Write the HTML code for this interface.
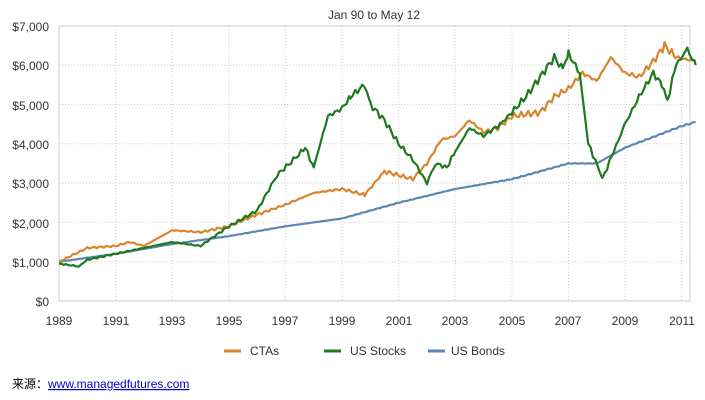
<!DOCTYPE html>
<html><head><meta charset="utf-8"><style>
html,body{margin:0;padding:0;background:#fff;width:705px;height:400px;overflow:hidden}
text{font-family:"Liberation Sans",Arial,sans-serif;font-size:12px;fill:#333}
</style></head><body>
<svg width="705" height="400" viewBox="0 0 705 400">
<g id="grid" stroke="#ccc" stroke-dasharray="1,2" stroke-width="1"></g>
<rect x="59" y="26" width="631" height="275" fill="none" stroke="#ccc"/>
<text x="374" y="19" text-anchor="middle">Jan 90 to May 12</text>
<g text-anchor="end">
<text x="49" y="31">$7,000</text><text x="49" y="70">$6,000</text><text x="49" y="110">$5,000</text>
<text x="49" y="149">$4,000</text><text x="49" y="188">$3,000</text><text x="49" y="228">$2,000</text>
<text x="49" y="267">$1,000</text><text x="49" y="306">$0</text>
</g>
<g text-anchor="middle">
<text x="59" y="325">1989</text><text x="116" y="325">1991</text><text x="172" y="325">1993</text>
<text x="229" y="325">1995</text><text x="285" y="325">1997</text><text x="342" y="325">1999</text>
<text x="399" y="325">2001</text><text x="455" y="325">2003</text><text x="512" y="325">2005</text>
<text x="568" y="325">2007</text><text x="625" y="325">2009</text><text x="682" y="325">2011</text>
</g>
<g id="series" fill="none" stroke-width="2.2" stroke-linejoin="round"></g>
<line x1="224" y1="351" x2="241" y2="351" stroke="#d98530" stroke-width="3"/>
<text x="250" y="355">CTAs</text>
<line x1="324" y1="351" x2="341" y2="351" stroke="#1e7a1e" stroke-width="3"/>
<text x="350" y="355">US Stocks</text>
<line x1="428" y1="351" x2="445" y2="351" stroke="#5b87b5" stroke-width="3"/>
<text x="451" y="355">US Bonds</text>
<text x="12" y="388" style="font-family:'Liberation Sans','Noto Sans CJK SC',sans-serif;fill:#000">来源：<tspan fill="#00c" text-decoration="underline">www.managedfutures.com</tspan></text>
</svg>
<script>
var X=function(t){return 59+(t-1989)*28.3},Y=function(v){return 301-v*0.0393};
var g=document.getElementById('grid'),s='';
for(var i=1;i<7;i++)s+='<line x1="59" x2="690" y1="'+Y(i*1000)+'" y2="'+Y(i*1000)+'"/>';
for(var y=1991;y<=2011;y+=2)s+='<line y1="26" y2="301" x1="'+X(y)+'" x2="'+X(y)+'"/>';
g.innerHTML=s;
function P(d,c,a){var pts=[];for(var i=0;i<d.length-2;i+=2){var t0=d[i],v0=d[i+1],t1=d[i+2],v1=d[i+3];for(var t=t0;t<t1-1e-6;t+=1/12){var f=(t-t0)/(t1-t0);var v=v0+(v1-v0)*f;v*=1+a*Math.sin(t*37.1)*Math.cos(t*11.3);pts.push(X(t).toFixed(1)+','+Y(v).toFixed(1));}}
pts.push(X(d[d.length-2])+','+Y(d[d.length-1]));return '<polyline stroke="'+c+'" points="'+pts.join(' ')+'"/>';}
var b=[1989,1000,1991,1200,1993,1450,1995,1650,1997,1900,1999,2100,2001,2500,2003,2850,2005,3100,2007,3500,2008,3500,2009,3900,2011,4450,2011.5,4550];
var c=[1989,1000,1990,1350,1991,1400,1991.5,1500,1992,1400,1993,1800,1994,1750,1995,1900,1996,2200,1997,2450,1998,2750,1999,2850,1999.8,2700,2000.5,3300,2001,3200,2001.5,3100,2002,3500,2002.5,4100,2003,4200,2003.5,4600,2004,4300,2004.5,4400,2005,4700,2006,4800,2006.5,5200,2007,5400,2007.5,5800,2008,5600,2008.5,6200,2009,5800,2009.5,5700,2010,6100,2010.4,6500,2010.8,6200,2011.5,6100];
var st=[1989,950,1989.7,880,1990,1050,1991,1200,1992,1350,1993,1500,1994,1400,1995,1900,1996,2300,1996.7,3200,1997.3,3600,1997.7,3900,1998,3400,1998.5,4700,1999,4900,1999.3,5200,1999.8,5500,2000,5000,2000.5,4600,2001,4000,2001.5,3600,2002,3000,2002.3,3500,2002.7,3400,2003,3800,2003.5,4400,2004,4200,2004.6,4500,2005,4800,2005.5,5200,2006,5700,2006.5,6200,2006.8,5900,2007,6300,2007.4,5800,2007.7,4000,2008,3500,2008.2,3100,2008.6,3800,2009,4500,2009.5,5200,2010,5800,2010.3,5500,2010.5,5100,2010.8,6000,2011.2,6400,2011.5,6000];
document.getElementById('series').innerHTML=P(b,'#5b87b5',0.004)+P(c,'#d98530',0.018)+P(st,'#1e7a1e',0.018);
</script>
</body></html>
